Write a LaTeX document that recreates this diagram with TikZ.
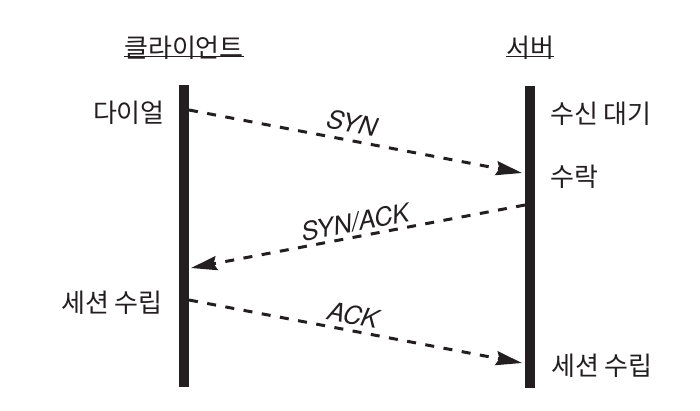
\documentclass[tikz,border=0pt]{standalone}
\usepackage{fontspec}
\newfontfamily\kr{Noto Sans CJK KR}
\newfontfamily\lat{TeX Gyre Heros}
\usetikzlibrary{arrows.meta}
\definecolor{ink}{HTML}{231F20}
\begin{document}
\begin{tikzpicture}[x=1pt,y=-1pt,
  lbl/.style={font=\kr\fontsize{26}{30}\selectfont, text=ink, inner sep=0pt},
  msg/.style={font=\lat\itshape\fontsize{25.5}{29}\selectfont, text=ink, inner sep=0pt},
  bar/.style={fill=ink, draw=none},
  arr/.style={draw=ink, line width=3pt, dash pattern=on 9pt off 9.5pt,
    -{Stealth[length=26pt,width=14pt,inset=3pt]}}]
\useasboundingbox (0,0) rectangle (700,410);
% lifelines
\fill[bar] (179,85) rectangle (189,387);
\fill[bar] (525,86) rectangle (535,388);
% headers
\node[lbl] (hc) at (184,47.5) {클라이언트};
\node[lbl] (hs) at (530,47.5) {서버};
\draw[ink, line width=1.4pt] ([yshift=3pt]hc.south west) -- ([yshift=3pt]hc.south east);
\draw[ink, line width=1.4pt] ([yshift=3pt]hs.south west) -- ([yshift=3pt]hs.south east);
% side labels
\node[lbl, anchor=east] (dial) at (165,113) {다이얼};
\node[lbl, anchor=west] (wait) at (550,113.5) {수신 대기};
\node[lbl, anchor=west] (acc) at (550,176.5) {수락};
\node[lbl, anchor=east] (estc) at (163,303) {세션 수립};
\node[lbl, anchor=west] (ests) at (551,366) {세션 수립};
% message endpoints
\coordinate (a1) at (189,110);
\coordinate (b1) at (522,173);
\coordinate (a2) at (525,205);
\coordinate (b2) at (191,268);
\coordinate (a3) at (189,300);
\coordinate (b3) at (522,363);
\draw[arr] (a1) -- (b1);
\draw[arr] (a2) -- (b2);
\draw[arr] (a3) -- (b3);
% message labels
\node[msg, rotate=-10.8] (syn) at (352,123) {SYN};
\node[msg, rotate=10.7] (synack) at (355,222) {SYN/ACK};
\node[msg, rotate=-10.8] (ack) at (353,315) {ACK};
\end{tikzpicture}
\end{document}
